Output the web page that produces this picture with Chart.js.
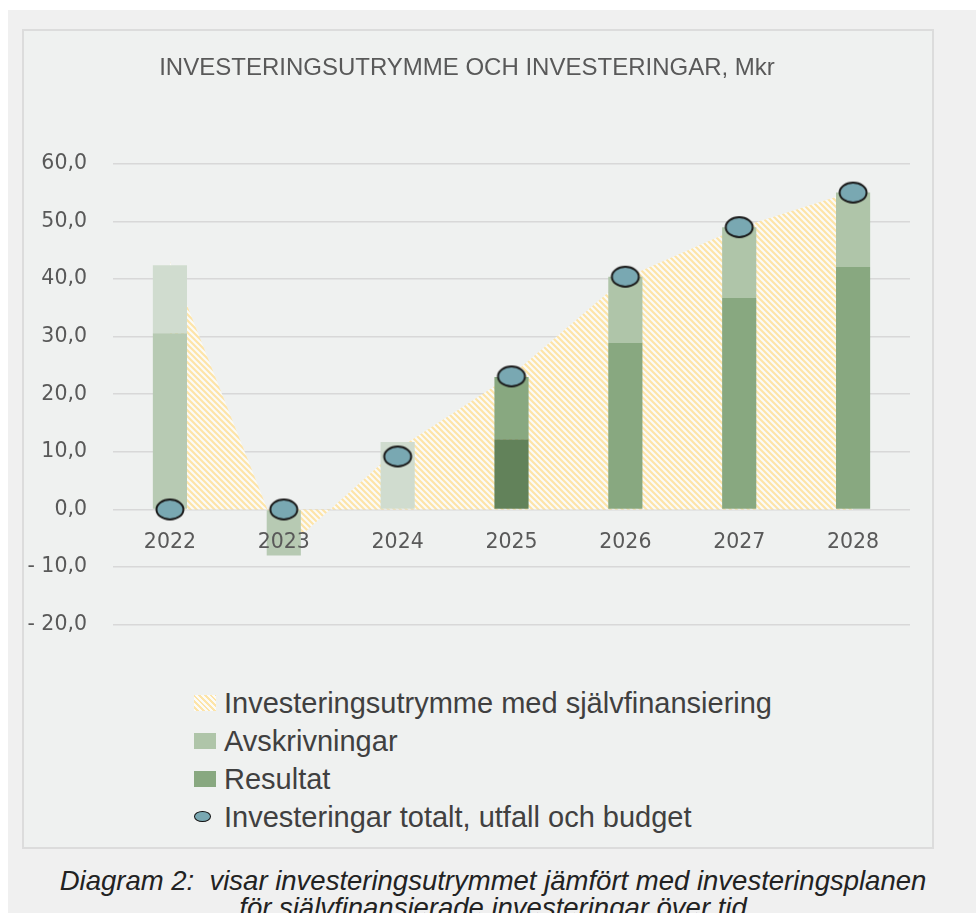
<!DOCTYPE html>
<html lang="sv">
<head>
<meta charset="utf-8">
<title>Investeringsutrymme och investeringar</title>
<script src="https://cdn.jsdelivr.net/npm/chart.js@4.4.1/dist/chart.umd.min.js"></script>
<style>
  html, body { margin: 0; padding: 0; }
  body { width: 976px; height: 913px; background: #fff; position: relative; overflow: hidden; }
  #page { position: absolute; left: 8px; top: 10px; right: 0; bottom: 0; background: #f0f0f0; }
  #frame { position: absolute; left: 22px; top: 29px; width: 908px; height: 816px;
           border: 2px solid #dcdcdc; background: #eff1f0; }
  #chart { position: absolute; left: 0; top: 0; }
  #legend { position: absolute; left: 170px; top: 653px; margin: 0; padding: 0; list-style: none;
            font-family: "Liberation Sans", Arial, sans-serif; font-size: 29px; color: #404040; }
  #legend li { height: 38px; display: flex; align-items: center; white-space: nowrap; }
  #legend .box { width: 22px; height: 16px; margin-right: 8px; flex: none; position: relative; }
  #legend .dot { position: absolute; left: 0; top: 2px; width: 15px; height: 9px; border-radius: 50%;
                 border: 1.5px solid #111; background: #79a8b2; }
  #caption { position: absolute; left: 0; width: 986px; top: 867px; text-align: center;
             font-family: "Liberation Sans", Arial, sans-serif; font-style: italic; font-size: 27.5px;
             line-height: 27px; color: #222; }
</style>
</head>
<body>
<div id="page"></div>
<div id="frame">
  <canvas id="chart" width="908" height="632"></canvas>
  <ul id="legend"></ul>
</div>
<div id="caption">Diagram 2:&nbsp; visar investeringsutrymmet jämfört med investeringsplanen<br>för självfinansierade investeringar över tid</div>

<script>
// År på x-axeln
var years = ['2022', '2023', '2024', '2025', '2026', '2027', '2028'];

// Investeringsutrymme med självfinansiering (ytan)
var utrymme = [43.0, -7.2, 10.5, 23.3, 40.2, 48.9, 55.2];

// Staplarna: resultat i botten, avskrivningar ovanpå
var resultat = [30.6, -8.0, 0, 12.2, 28.9, 36.7, 42.1];
var avskrivningar = [11.8, 0, 11.7, 10.8, 11.5, 12.3, 12.9];

// Investeringar totalt, utfall och budget (punkterna)
var investeringar = [0, 0, 9.2, 23.1, 40.4, 49.0, 55.0];

// y-axelns steg
var yTicks = [-20, -10, 0, 10, 20, 30, 40, 50, 60];

// färger per stapel (utfallsåren är ljusare)
var resultatColors = ['#b7cab3', '#b7cab3', '#b7cab3', '#62825a', '#88a880', '#88a880', '#88a880'];
var avskrivningColors = ['#d0dccf', '#d0dccf', '#d0dccf', '#88a880', '#afc5a9', '#afc5a9', '#afc5a9'];

// randigt mönster för ytan
function makeHatch() {
    var c = document.createElement('canvas');
    c.width = 6;
    c.height = 6;
    var g = c.getContext('2d');
    g.fillStyle = '#fbfbf8';
    g.fillRect(0, 0, 6, 6);
    g.strokeStyle = '#fde4a8';
    g.lineWidth = 2.2;
    g.beginPath();
    g.moveTo(-1, -1); g.lineTo(7, 7);
    g.moveTo(-4, 2); g.lineTo(4, 10);
    g.moveTo(2, -4); g.lineTo(10, 4);
    g.stroke();
    return g.createPattern(c, 'repeat');
}

// oval markör med svart kant
function makeMarker() {
    var c = document.createElement('canvas');
    c.width = 32;
    c.height = 26;
    var g = c.getContext('2d');
    g.beginPath();
    g.ellipse(16, 13, 13.5, 10, 0, 0, Math.PI * 2);
    g.fillStyle = '#79a8b2';
    g.fill();
    g.lineWidth = 2;
    g.strokeStyle = '#1a1a1a';
    g.stroke();
    return c;
}

function fmt(v) {
    var s = Math.abs(v).toFixed(1).replace('.', ',');
    return v < 0 ? '- ' + s : s;
}

var tickFont = { family: 'DejaVu Sans', size: 20.5 };

var chart = new Chart(document.getElementById('chart'), {
    data: {
        labels: years,
        datasets: [{
            type: 'line',
            label: 'Investeringsutrymme med självfinansiering',
            data: utrymme,
            stack: 'yta',
            order: 3,
            fill: 'origin',
            backgroundColor: makeHatch(),
            borderWidth: 0,
            pointRadius: 0,
            tension: 0
        }, {
            type: 'bar',
            label: 'Resultat',
            data: resultat,
            stack: 'staplar',
            order: 2,
            backgroundColor: resultatColors,
            borderWidth: 0,
            categoryPercentage: 1,
            barPercentage: 0.3
        }, {
            type: 'bar',
            label: 'Avskrivningar',
            data: avskrivningar,
            stack: 'staplar',
            order: 2,
            backgroundColor: avskrivningColors,
            borderWidth: 0,
            categoryPercentage: 1,
            barPercentage: 0.3
        }, {
            type: 'line',
            label: 'Investeringar totalt, utfall och budget',
            data: investeringar,
            stack: 'punkter',
            order: 1,
            showLine: false,
            pointStyle: makeMarker(),
            pointRadius: 14
        }]
    },
    options: {
        responsive: false,
        animation: false,
        layout: { padding: { left: 0, right: 22, top: 0, bottom: 17 } },
        plugins: {
            legend: { display: false },
            tooltip: { enabled: false },
            title: {
                display: true,
                text: 'INVESTERINGSUTRYMME OCH INVESTERINGAR, Mkr',
                color: '#595959',
                font: { family: 'Liberation Sans', size: 24, weight: 'normal' },
                padding: { top: 23, bottom: 81 }
            }
        },
        scales: {
            x: {
                stacked: true,
                offset: true,
                position: { y: 0 },
                grid: { display: false, drawTicks: false },
                border: { display: false },
                // årtalen ritas ovanpå staplarna, som i originalet
                ticks: { color: '#595959', font: tickFont, padding: 21, maxRotation: 0, z: 1 }
            },
            y: {
                stacked: true,
                min: -20,
                max: 60,
                afterBuildTicks: function (scale) {
                    scale.ticks = yTicks.map(function (v) { return { value: v }; });
                },
                afterFit: function (scale) { scale.width = 89; },
                grid: { color: '#d8d8d8', lineWidth: 1.6, drawTicks: false },
                border: { display: false },
                ticks: { color: '#595959', font: tickFont, padding: 26, callback: fmt }
            }
        }
    }
});

// legend under diagrammet, en rad per serie
var legendOrder = [0, 2, 1, 3];
var legendSwatch = [
    'background: repeating-linear-gradient(45deg, #fbfbf8 0 2px, #fde4a8 2px 4px);',
    'background: #afc5a9;',
    'background: #88a880;',
    ''
];
var ul = document.getElementById('legend');
legendOrder.forEach(function (idx, i) {
    var li = document.createElement('li');
    var box = document.createElement('span');
    box.className = 'box';
    box.setAttribute('style', legendSwatch[i]);
    if (i === 3) {
        var dot = document.createElement('span');
        dot.className = 'dot';
        box.appendChild(dot);
    }
    li.appendChild(box);
    li.appendChild(document.createTextNode(chart.data.datasets[idx].label));
    ul.appendChild(li);
});
</script>
</body>
</html>
